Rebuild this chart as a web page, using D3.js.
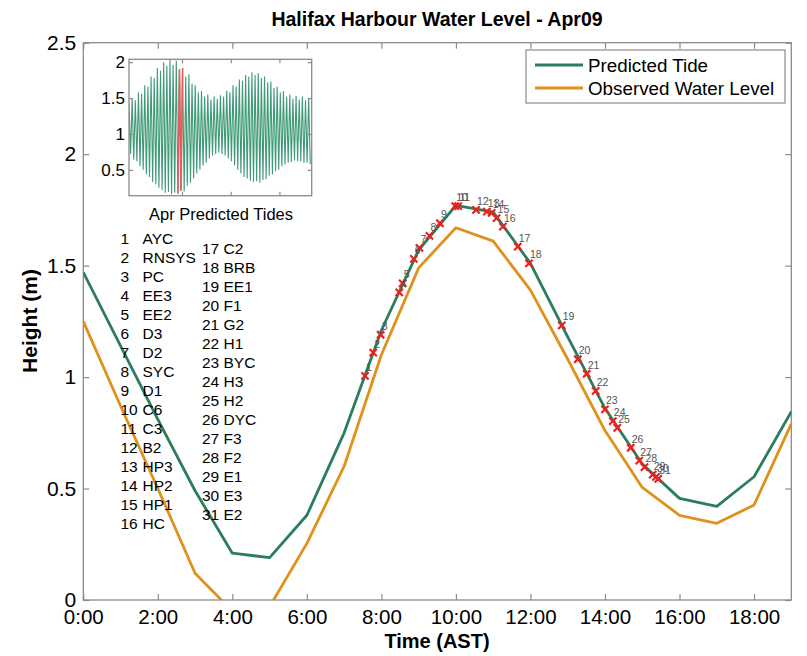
<!DOCTYPE html>
<html>
<head>
<meta charset="utf-8">
<script src="https://cdn.jsdelivr.net/npm/d3@7/dist/d3.min.js"></script>
<style>
  html, body { margin: 0; padding: 0; background: #fff; }
  svg { display: block; font-family: "Liberation Sans", Arial, sans-serif; }
</style>
</head>
<body>
<svg id="chart" width="807" height="656"></svg>
<script>
// ---------------- DATA ----------------
const hours = [0,1,2,3,4,5,6,7,8,9,10,11,12,13,14,15,16,17,18,19];
const predictedTide = [1.47,1.14,0.81,0.49,0.21,0.19,0.38,0.75,1.21,1.57,1.77,1.74,1.51,1.18,0.86,0.61,0.456,0.42,0.553,0.845];
const observedLevel = [1.25,0.87,0.50,0.12,-0.05,-0.03,0.254,0.60,1.10,1.49,1.67,1.61,1.39,1.08,0.76,0.505,0.38,0.344,0.426,0.79];

const xTickValues = [0,2,4,6,8,10,12,14,16,18];
const xTickLabels = ["0:00","2:00","4:00","6:00","8:00","10:00","12:00","14:00","16:00","18:00"];
const yTickValues = [0,0.5,1,1.5,2,2.5];
const yTickLabels = ["0","0.5","1","1.5","2","2.5"];

// station markers: number, time (h), height (m)
const stationIds = [1,2,3,4,5,6,7,8,9,10,11,12,13,14,15,16,17,18,19,20,21,22,23,24,25,26,27,28,29,30,31];
const stationTimes = [7.56,7.78,7.98,8.48,8.57,8.87,9.02,9.29,9.57,9.98,10.06,10.54,10.83,10.96,11.09,11.26,11.66,11.96,12.84,13.27,13.51,13.75,14.0,14.21,14.33,14.69,14.92,15.06,15.28,15.37,15.43];
const stationHeights = [1.005,1.11,1.19,1.38,1.42,1.53,1.58,1.633,1.69,1.767,1.767,1.75,1.742,1.737,1.713,1.675,1.585,1.51,1.232,1.08,1.015,0.938,0.855,0.802,0.772,0.683,0.625,0.596,0.562,0.552,0.543];
const stationNames = ["AYC","RNSYS","PC","EE3","EE2","D3","D2","SYC","D1","C6","C3","B2","HP3","HP2","HP1","HC","C2","BRB","EE1","F1","G2","H1","BYC","H3","H2","DYC","F3","F2","E1","E3","E2"];

// inset: April predicted tide, alternating high/low extrema (m)
const aprilExtrema = [
  1.42,0.72, 1.50,0.64, 1.47,0.62, 1.58,0.55, 1.56,0.50, 1.68,0.44, 1.66,0.40, 1.80,0.33,
  1.78,0.30, 1.92,0.25, 1.88,0.22, 2.00,0.18, 1.95,0.19, 2.03,0.16, 1.96,0.18, 2.02,0.17,
  1.90,0.21, 1.92,0.20, 1.80,0.28, 1.83,0.32, 1.70,0.38, 1.68,0.45, 1.58,0.50, 1.60,0.56,
  1.52,0.60, 1.55,0.66, 1.48,0.70, 1.52,0.72, 1.49,0.74, 1.54,0.72, 1.52,0.70, 1.60,0.66,
  1.58,0.62, 1.68,0.56, 1.66,0.50, 1.76,0.45, 1.74,0.40, 1.82,0.38, 1.80,0.35, 1.86,0.33,
  1.82,0.34, 1.85,0.32, 1.78,0.36, 1.80,0.37, 1.72,0.42, 1.73,0.44, 1.64,0.48, 1.66,0.50,
  1.58,0.55, 1.60,0.57, 1.52,0.60, 1.55,0.61, 1.49,0.63, 1.53,0.62, 1.48,0.62, 1.52,0.60,
  1.47,0.60, 1.50,0.58
];
const extremaSpacingDays = 0.2588;      // half a semi-diurnal cycle
const highlightDay = [8, 9.05];         // April 9
const insetYTicks = [0.5,1,1.5,2];
const insetYTickLabels = ["0.5","1","1.5","2"];
const insetXTicks = [8.7,16.7,24.7];

const legendLabels = ["Predicted Tide","Observed Water Level"];
const titleText = "Halifax Harbour Water Level - Apr09";
const xLabelText = "Time (AST)";
const yLabelText = "Height (m)";
const insetLabelText = "Apr Predicted Tides";

// ---------------- STYLE ----------------
const greenC = "#2b7d5e";
const orangeC = "#e0901c";
const redC = "#e8231f";
const axisC = "#8a8a8a";

const svg = d3.select("#chart");
const x = d3.scaleLinear().domain([0,19]).range([83.3, 791.3]);
const y = d3.scaleLinear().domain([0,2.5]).range([600, 42.7]);

svg.append("defs").append("clipPath").attr("id","plotClip")
  .append("rect").attr("x",x(0)).attr("y",y(2.5)).attr("width",x(19)-x(0)).attr("height",y(0)-y(2.5));

function styleAxis(g){ g.selectAll("path").attr("stroke",axisC).attr("stroke-width",1.3);
  g.selectAll("line").attr("stroke",axisC).attr("stroke-width",1.2);
  g.selectAll("text").attr("fill","#000"); }

const xAxis = svg.append("g").attr("transform",`translate(0,${y(0)})`)
  .call(d3.axisBottom(x).tickValues(xTickValues).tickFormat((d,i)=>xTickLabels[i]).tickSize(-6).tickSizeOuter(0).tickPadding(9));
xAxis.selectAll("text").attr("font-size",20.5);
styleAxis(xAxis);
const xTop = svg.append("g").attr("transform",`translate(0,${y(2.5)})`)
  .call(d3.axisTop(x).tickValues(xTickValues).tickFormat("").tickSize(-6).tickSizeOuter(0));
styleAxis(xTop);
const yAxis = svg.append("g").attr("transform",`translate(${x(0)},0)`)
  .call(d3.axisLeft(y).tickValues(yTickValues).tickFormat((d,i)=>yTickLabels[i]).tickSize(-6).tickSizeOuter(0).tickPadding(7));
yAxis.selectAll("text").attr("font-size",21);
styleAxis(yAxis);
const yRight = svg.append("g").attr("transform",`translate(${x(19)},0)`)
  .call(d3.axisRight(y).tickValues(yTickValues).tickFormat("").tickSize(-6).tickSizeOuter(0));
styleAxis(yRight);
svg.selectAll(".domain").remove();
svg.append("rect").attr("x",x(0)).attr("y",y(2.5)).attr("width",x(19)-x(0)).attr("height",y(0)-y(2.5))
  .attr("fill","none").attr("stroke",axisC).attr("stroke-width",1.3);

// lines
const line = d3.line().x((d,i)=>x(hours[i])).y(d=>y(d));
const plot = svg.append("g").attr("clip-path","url(#plotClip)");
plot.append("path").datum(observedLevel).attr("d",line).attr("fill","none").attr("stroke",orangeC).attr("stroke-width",2.8).attr("stroke-linejoin","round");
plot.append("path").datum(predictedTide).attr("d",line).attr("fill","none").attr("stroke",greenC).attr("stroke-width",2.8).attr("stroke-linejoin","round");

// markers
const stations = stationIds.map((id,i)=>({id, t:stationTimes[i], h:stationHeights[i]}));
const xSym = d3.symbol().type(d3.symbolX).size(36);
plot.selectAll(".mk").data(stations).join("path")
  .attr("transform",d=>`translate(${x(d.t)},${y(d.h)})`).attr("d",xSym)
  .attr("fill","none").attr("stroke",redC).attr("stroke-width",2.2);
svg.selectAll(".mkl").data(stations).join("text")
  .attr("x",d=>x(d.t)+1).attr("y",d=>y(d.h)-5)
  .attr("font-size",10.5).attr("fill","#555").text(d=>d.id);

// station list
const list = svg.append("g").attr("font-size",15.5).attr("fill","#000");
stations.forEach((s,i)=>{
  const col = i<16 ? 0 : 1;
  const row = col===0 ? i : i-16;
  const cy = col===0 ? 238.3 + 19*row : 248.3 + 19*row;
  const nx = col===0 ? 120.5 : 202;
  const tx = col===0 ? 142.5 : 223.5;
  list.append("text").attr("x",nx).attr("y",cy).attr("dy","0.36em").text(s.id);
  list.append("text").attr("x",tx).attr("y",cy).attr("dy","0.36em").text(stationNames[i]);
});

// inset
const ix = d3.scaleLinear().domain([0,30]).range([129,311.7]);
const iy = d3.scaleLinear().domain([0.14,2.04]).range([195.7,59.3]);
svg.append("defs").append("clipPath").attr("id","insetClip")
  .append("rect").attr("x",129).attr("y",59.3).attr("width",182.7).attr("height",136.4);
svg.append("rect").attr("x",129).attr("y",59.3).attr("width",182.7).attr("height",136.4).attr("fill","#fff");
const ext = aprilExtrema.map((v,i)=>({d:i*extremaSpacingDays, v}));
const iline = d3.line().x(d=>ix(d.d)).y(d=>iy(d.v));
const ig = svg.append("g").attr("clip-path","url(#insetClip)");
ig.append("path").datum(ext).attr("d",iline).attr("fill","none").attr("stroke","#3f9a78").attr("stroke-width",1.1);
const hl = ext.filter(d=>d.d>=highlightDay[0]-0.15 && d.d<=highlightDay[1]);
ig.append("path").datum(hl).attr("d",iline).attr("fill","none").attr("stroke","#e06060").attr("stroke-width",1.6);
const iyAxis = svg.append("g").attr("transform","translate(129,0)")
  .call(d3.axisLeft(iy).tickValues(insetYTicks).tickFormat((d,i)=>insetYTickLabels[i]).tickSize(-4).tickSizeOuter(0).tickPadding(4));
iyAxis.selectAll("text").attr("font-size",17);
styleAxis(iyAxis);
const iyR = svg.append("g").attr("transform","translate(311.7,0)")
  .call(d3.axisRight(iy).tickValues(insetYTicks).tickFormat("").tickSize(-4).tickSizeOuter(0));
styleAxis(iyR);
const ixAxis = svg.append("g").attr("transform","translate(0,195.7)")
  .call(d3.axisBottom(ix).tickValues(insetXTicks).tickFormat("").tickSize(-4).tickSizeOuter(0));
styleAxis(ixAxis);
const ixTop = svg.append("g").attr("transform","translate(0,59.3)")
  .call(d3.axisTop(ix).tickValues(insetXTicks).tickFormat("").tickSize(-4).tickSizeOuter(0));
styleAxis(ixTop);
svg.selectAll(".domain").remove();
svg.append("rect").attr("x",129).attr("y",59.3).attr("width",182.7).attr("height",136.4)
  .attr("fill","none").attr("stroke",axisC).attr("stroke-width",1.3);
svg.append("text").attr("x",221).attr("y",220).attr("text-anchor","middle").attr("font-size",16.5).text(insetLabelText);

// legend
const lg = svg.append("g");
lg.append("rect").attr("x",526).attr("y",50).attr("width",259).attr("height",53).attr("fill","#fff").attr("stroke",axisC).attr("stroke-width",1.2);
[greenC, orangeC].forEach((c,i)=>{
  const ly = 65 + 23*i;
  lg.append("line").attr("x1",535).attr("x2",583).attr("y1",ly).attr("y2",ly).attr("stroke",c).attr("stroke-width",2.8);
  lg.append("text").attr("x",588).attr("y",ly).attr("dy","0.36em").attr("font-size",18.8).text(legendLabels[i]);
});

// titles
svg.append("text").attr("x",437).attr("y",26).attr("text-anchor","middle").attr("font-size",19.5).attr("font-weight","bold").text(titleText);
svg.append("text").attr("x",437).attr("y",648).attr("text-anchor","middle").attr("font-size",20).attr("font-weight","bold").text(xLabelText);
svg.append("text").attr("transform","translate(37,321) rotate(-90)").attr("text-anchor","middle").attr("font-size",21).attr("font-weight","bold").text(yLabelText);
</script>
</body>
</html>
